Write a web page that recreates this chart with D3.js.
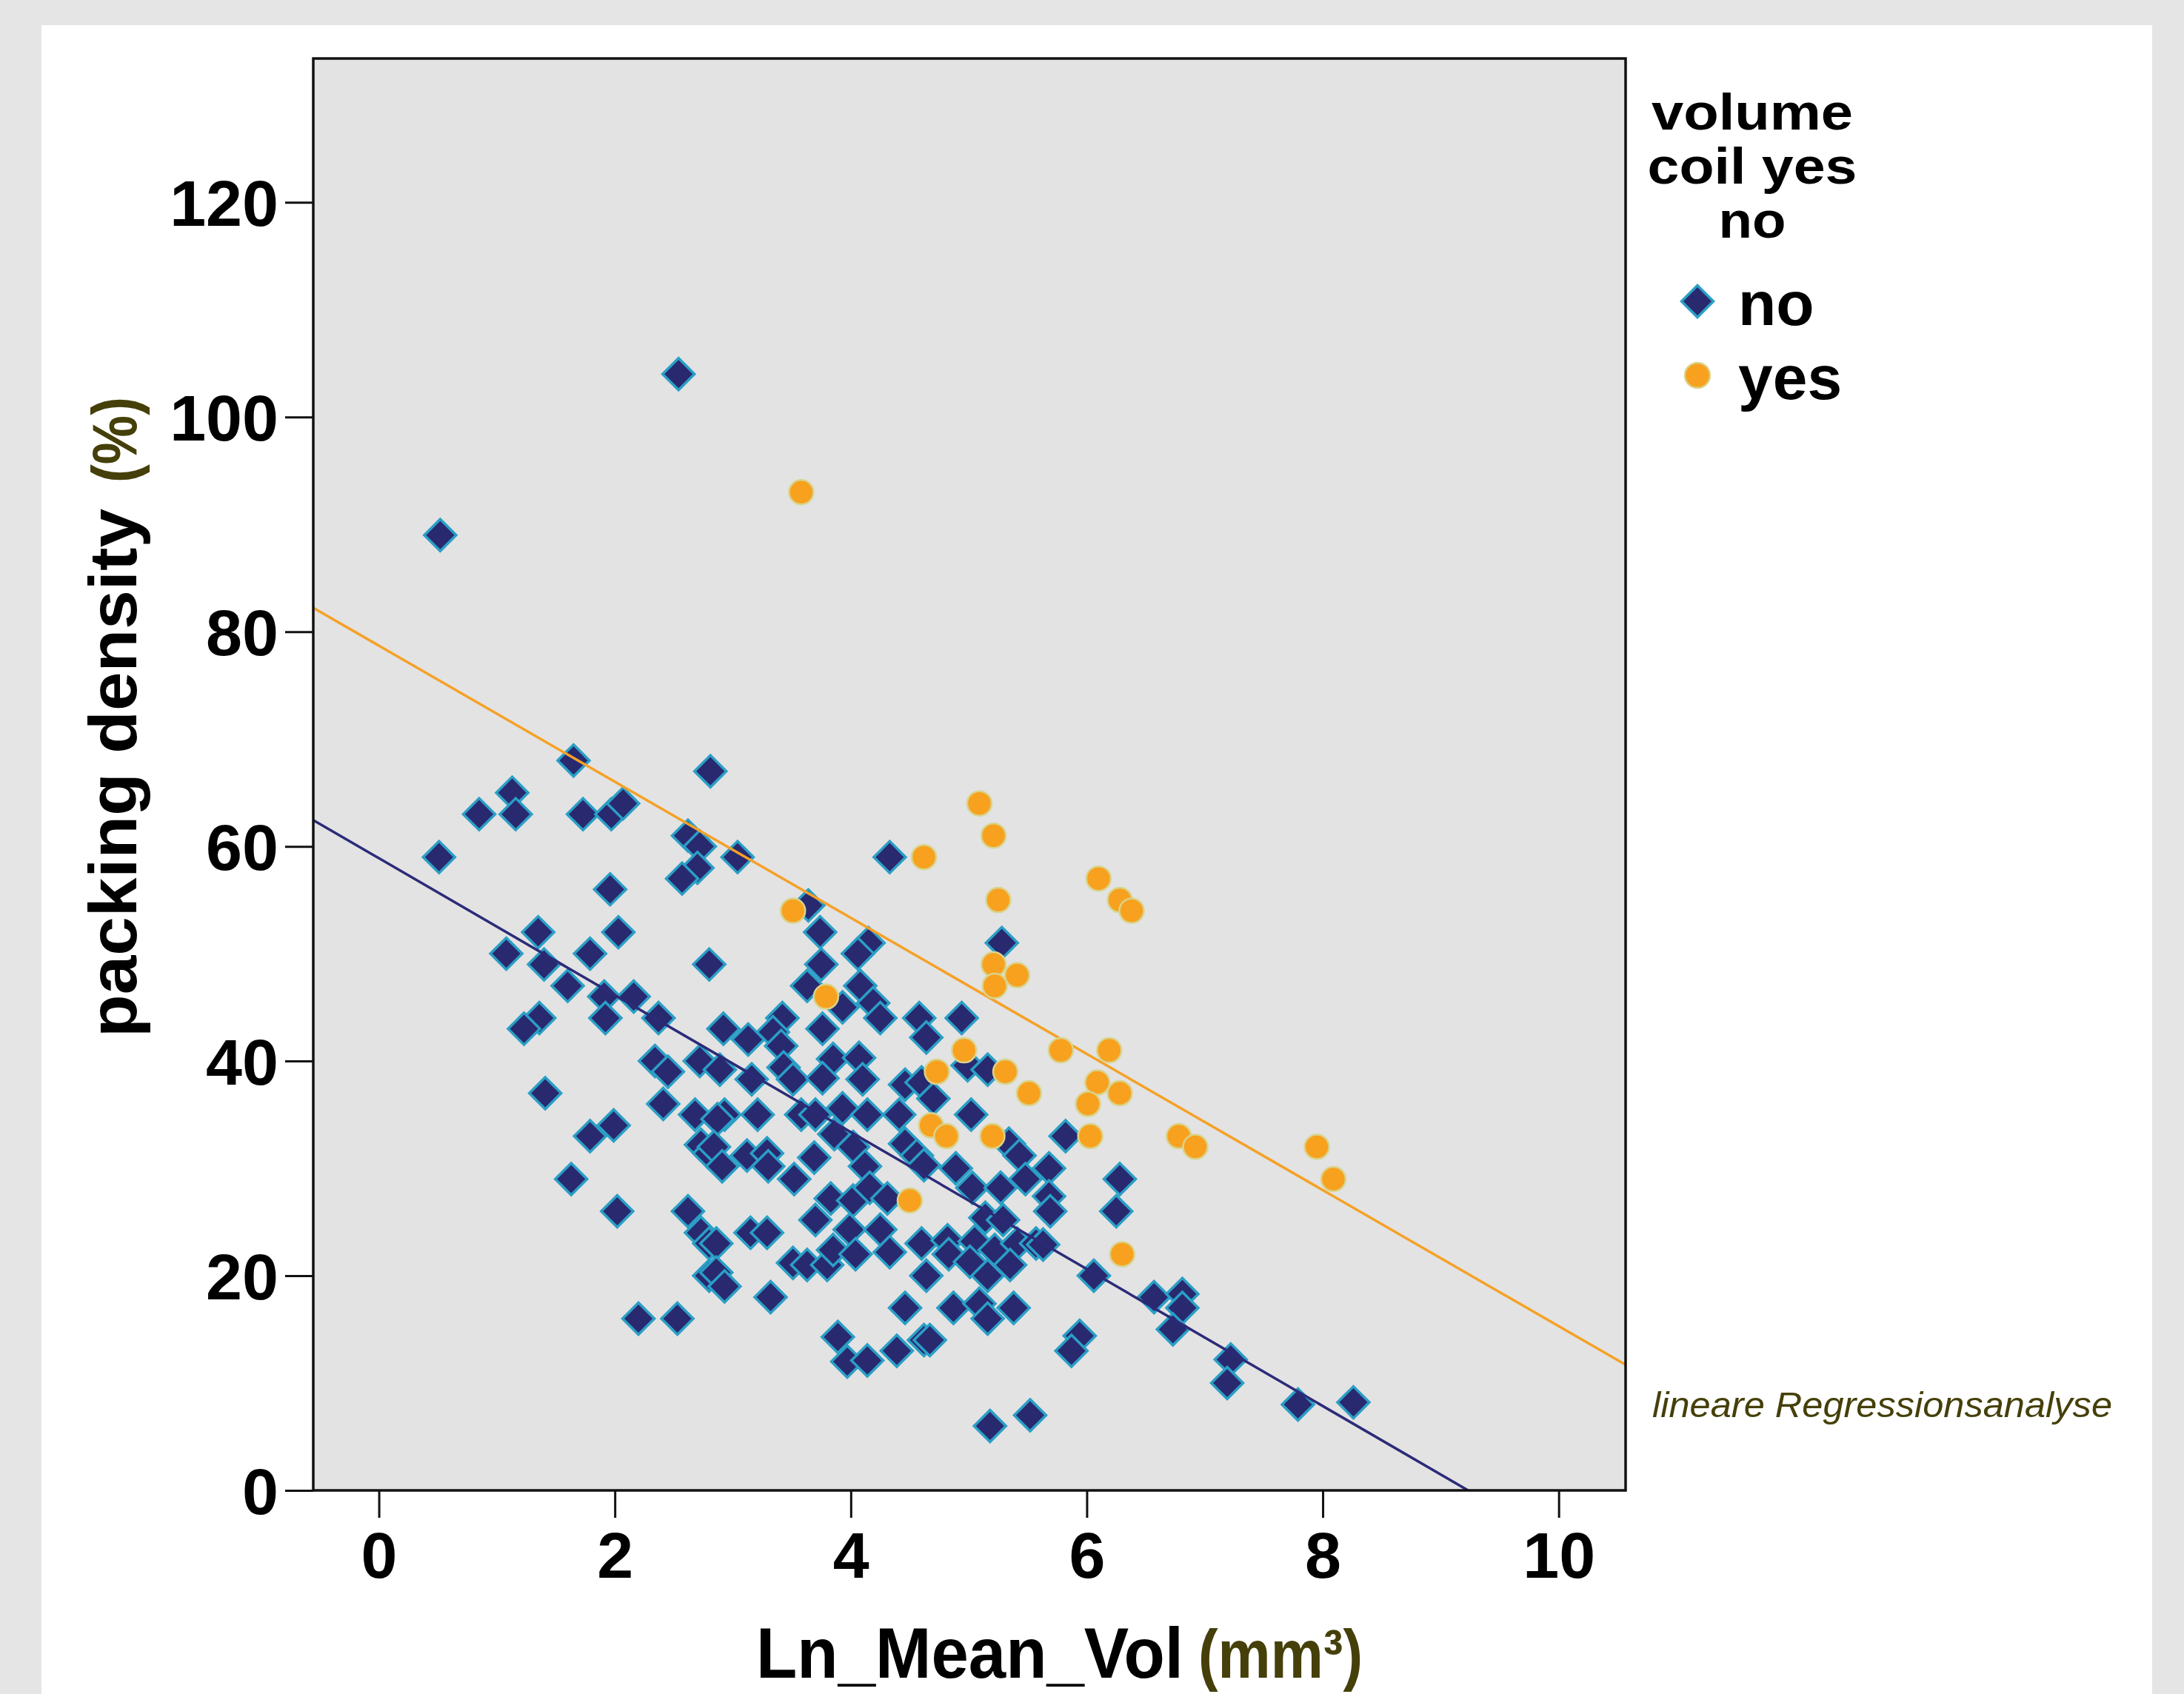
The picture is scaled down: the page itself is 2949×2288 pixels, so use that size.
<!DOCTYPE html>
<meta charset="utf-8">
<title>packing density</title>
<style>
body {
  margin: 0;
  background: #e5e5e5;
}
svg {
  display: block;
}
.axis text {
  font-family: 'Liberation Sans', Arial, sans-serif;
  font-weight: bold;
  fill: #000;
}
.axis .domain {
  display: none;
}
.axis .tick line {
  stroke: #111;
  stroke-width: 3;
}
.label {
  font-family: 'Liberation Sans', Arial, sans-serif;
  font-weight: bold;
}
</style>
<body>
  <svg width="2949" height="2288"></svg>
</body>
<script src="https://d3js.org/d3.v7.min.js"></script>
<script>
// tick labels
var xTicks = [0, 2, 4, 6, 8, 10];
var yTicks = [0, 20, 40, 60, 80, 100, 120];

// volume coil = no  [Ln_Mean_Vol, packing density]
var noPoints = [
  [0.52,89],[2.54,104],
  [0.51,59],[0.85,63],[1.13,65],[1.16,63],[1.65,68],[1.73,63],[1.97,63],[2.07,64],[2.81,67],
  [2.62,61],[2.72,60],[2.70,58],[2.57,57],[1.96,56],[3.04,59],[4.33,59],
  [1.35,52],[2.03,52],[1.08,50],[1.40,49],[1.79,50],[2.80,49],
  [1.60,47],[1.91,46],[2.16,46],[1.36,44],[1.23,43],[1.92,44],[2.37,44],
  [2.34,40],[2.45,39],[2.72,40],[1.41,37],[2.41,36],
  [3.64,54.5],[3.74,52],[4.15,51],[4.06,50],[3.75,49],[3.63,47],[3.93,45],[4.08,47],[4.19,45.4],[4.25,44],
  [3.42,44],[2.92,43],[3.13,42],[3.34,42.7],[3.41,41.4],[3.76,43],[3.85,40.2],[4.07,40.3],
  [2.89,39.2],[3.16,38.3],[3.43,39.4],[3.51,38.3],[3.76,38.4],[4.10,38.3],[4.46,37.8],[4.58,44],
  [5.28,51],[4.94,44],[4.64,42.2],[4.99,39.6],[5.16,39.2],[4.60,38],[4.70,36.5],
  [1.79,33],[1.99,34],[2.68,35],[2.73,32.2],[2.80,31.4],[1.63,29],[2.02,26],[2.62,26],[2.73,24],[2.80,23],[2.80,20],[2.20,16],[2.53,16],
  [2.93,35],[2.87,34.6],[3.21,35],[3.58,35],[3.70,35],[3.93,35.6],[4.14,35],[4.41,35],[3.86,33.2],[4.02,32],[4.46,32.3],[4.56,31.2],
  [2.84,32],[3.12,31.2],[3.29,31.4],[3.30,30.2],[3.69,31],[2.91,30.2],[3.52,29],[4.12,30.2],[3.83,27.2],[4.02,27],[4.16,28.2],[4.31,27.2],
  [3.70,25.2],[3.99,24.3],[4.25,24.3],[3.15,24],[3.29,24],[2.86,23],[3.51,21.2],[3.63,21],[3.80,21],[3.85,22.4],[4.04,22],[4.33,22.2],
  [2.86,20.3],[2.93,19],[3.32,18],[4.46,17],[3.89,14.3],[3.97,12],[4.14,12.1],[4.39,13],[4.62,14],
  [5.02,35],[5.82,33],[5.34,32.3],[5.43,31.2],[5.68,30],[6.28,29],[4.89,30],[4.62,30.3],[5.03,28.2],[5.27,28.2],[5.48,29],[5.68,27.4],[5.69,26],[6.25,26],
  [5.14,25.4],[5.29,25.2],[4.60,23],[4.82,23.3],[5.05,23.2],[5.22,22.4],[5.41,23],[5.57,23],[5.63,22.9],[4.83,22],[5.01,21.3],[5.16,20],[5.35,21],[4.64,20],[6.06,20],
  [4.87,17],[5.09,17.4],[5.16,16],[5.38,17],[4.67,14],[5.94,14.4],[5.87,13],[5.18,6],[5.52,7],
  [6.57,18],[6.81,18.3],[6.81,17],[6.73,15],[7.22,12.2],[7.19,10],[7.79,8],[8.26,8.2]
];

// volume coil = yes
var yesPoints = [
  [3.58,93],[5.09,64],[5.21,61],[4.62,59],[5.25,55],[6.10,57],[6.28,55],[6.38,54],[3.51,54],
  [5.21,49],[5.41,48],[5.22,47],[3.79,46],[4.96,41],[5.78,41],[6.19,41],[4.73,39],[5.31,39],
  [5.51,37],[6.09,38],[6.28,37],[6.01,36],[4.68,34],[4.81,33],[5.20,33],[6.03,33],[6.78,33],
  [6.92,32],[7.95,32],[8.09,29],[4.50,27],[6.30,22]
];

// regression lines [intercept, slope]
var noFit = [58.9, -6.38];
var yesFit = [78.7, -6.34];

var legendKeys = ["no", "yes"];
var legendTitle = ["volume", "coil yes", "no"];

var navy = "#29296f",
    teal = "#2a9fc6",
    orange = "#f8a11e",
    olive = "#45400a";

// rendered widths of the legend title lines
var titleWidth = {"volume": 272, "coil yes": 283, "no": 91};

var svg = d3.select("svg");

// white panel
svg.append("rect")
    .attr("x", 56).attr("y", 34)
    .attr("width", 2850).attr("height", 2300)
    .attr("fill", "#fff");

var plot = {left: 423, top: 79, right: 2195, bottom: 2013};

var x = d3.scaleLinear()
    .domain([-0.556, 10.567])
    .range([plot.left, plot.right]);

var y = d3.scaleLinear()
    .domain([0, 133.4])
    .range([plot.bottom, plot.top]);

// plot background
svg.append("rect")
    .attr("x", plot.left).attr("y", plot.top)
    .attr("width", plot.right - plot.left)
    .attr("height", plot.bottom - plot.top)
    .attr("fill", "#e3e3e3");

svg.append("clipPath").attr("id", "clip")
  .append("rect")
    .attr("x", plot.left).attr("y", plot.top)
    .attr("width", plot.right - plot.left)
    .attr("height", plot.bottom - plot.top);

// axes
svg.append("g")
    .attr("class", "axis")
    .attr("transform", "translate(0," + plot.bottom + ")")
    .call(d3.axisBottom(x).tickValues(xTicks).tickSize(37).tickPadding(19))
    .selectAll("text")
    .attr("font-size", 88);

svg.append("g")
    .attr("class", "axis")
    .attr("transform", "translate(" + plot.left + ",0)")
    .call(d3.axisLeft(y).tickValues(yTicks).tickSize(38).tickPadding(9))
    .selectAll("text")
    .attr("font-size", 88)
    .attr("dy", "0.36em");

var g = svg.append("g").attr("clip-path", "url(#clip)");

// diamonds (no)
var diamond = d3.symbol().type(d3.symbolSquare).size(925);
g.selectAll(".no")
  .data(noPoints)
  .enter().append("path")
    .attr("class", "no")
    .attr("d", diamond)
    .attr("transform", d => "translate(" + x(d[0]) + "," + y(d[1]) + ") rotate(45)")
    .attr("fill", navy)
    .attr("stroke", teal)
    .attr("stroke-width", 3.5);

// regression lines
function fitLine(fit) {
  var x0 = x.domain()[0], x1 = x.domain()[1];
  return [[x0, fit[0] + fit[1] * x0], [x1, fit[0] + fit[1] * x1]];
}
var line = d3.line()
    .x(d => x(d[0]))
    .y(d => y(d[1]));

g.append("path")
    .attr("d", line(fitLine(noFit)))
    .attr("fill", "none")
    .attr("stroke", "#2c2a78")
    .attr("stroke-width", 3.5);

g.append("path")
    .attr("d", line(fitLine(yesFit)))
    .attr("fill", "none")
    .attr("stroke", "#f5a127")
    .attr("stroke-width", 3.5);

// circles (yes)
g.selectAll(".yes")
  .data(yesPoints)
  .enter().append("circle")
    .attr("class", "yes")
    .attr("cx", d => x(d[0]))
    .attr("cy", d => y(d[1]))
    .attr("r", 16.5)
    .attr("fill", orange)
    .attr("stroke", "#d9d48c")
    .attr("stroke-width", 2.5);

// plot frame
svg.append("rect")
    .attr("x", plot.left).attr("y", plot.top)
    .attr("width", plot.right - plot.left)
    .attr("height", plot.bottom - plot.top)
    .attr("fill", "none")
    .attr("stroke", "#111")
    .attr("stroke-width", 3.5);

// axis titles
svg.append("text")
    .attr("class", "label")
    .attr("x", 1021).attr("y", 2266)
    .attr("font-size", 96)
    .attr("textLength", 577)
    .attr("lengthAdjust", "spacingAndGlyphs")
    .text("Ln_Mean_Vol");
svg.append("text")
    .attr("class", "label")
    .attr("x", 1618).attr("y", 2266)
    .attr("font-size", 92)
    .attr("fill", olive)
    .attr("textLength", 222)
    .attr("lengthAdjust", "spacingAndGlyphs")
    .text("(mm³)");

svg.append("text")
    .attr("class", "label")
    .attr("transform", "translate(184,1401) rotate(-90)")
    .attr("font-size", 90)
    .attr("textLength", 714)
    .attr("lengthAdjust", "spacingAndGlyphs")
    .text("packing density");
svg.append("text")
    .attr("class", "label")
    .attr("transform", "translate(184,652) rotate(-90)")
    .attr("font-size", 86)
    .attr("fill", olive)
    .attr("textLength", 116)
    .attr("lengthAdjust", "spacingAndGlyphs")
    .text("(%)");

// legend
svg.selectAll(".ltitle")
  .data(legendTitle)
  .enter().append("text")
    .attr("class", "label ltitle")
    .attr("x", 2366)
    .attr("y", (d, i) => 175 + i * 73)
    .attr("text-anchor", "middle")
    .attr("font-size", 68)
    .attr("textLength", d => titleWidth[d])
    .attr("lengthAdjust", "spacingAndGlyphs")
    .text(d => d);

var legend = svg.selectAll(".lkey")
  .data(legendKeys)
  .enter().append("g")
    .attr("class", "lkey")
    .attr("transform", (d, i) => "translate(2292," + (407 + i * 100) + ")");

legend.filter(d => d == "no").append("path")
    .attr("d", diamond)
    .attr("transform", "rotate(45)")
    .attr("fill", navy)
    .attr("stroke", teal)
    .attr("stroke-width", 3.5);

legend.filter(d => d == "yes").append("circle")
    .attr("r", 17)
    .attr("fill", orange)
    .attr("stroke", "#d9d48c")
    .attr("stroke-width", 2.5);

legend.append("text")
    .attr("class", "label")
    .attr("x", 55)
    .attr("y", 32)
    .attr("font-size", 84)
    .text(d => d);

// note
svg.append("text")
    .attr("x", 2231).attr("y", 1914)
    .attr("font-family", "'Liberation Sans', Arial, sans-serif")
    .attr("font-style", "italic")
    .attr("font-size", 48)
    .attr("fill", olive)
    .attr("textLength", 621)
    .attr("lengthAdjust", "spacingAndGlyphs")
    .text("lineare Regressionsanalyse");
</script>
